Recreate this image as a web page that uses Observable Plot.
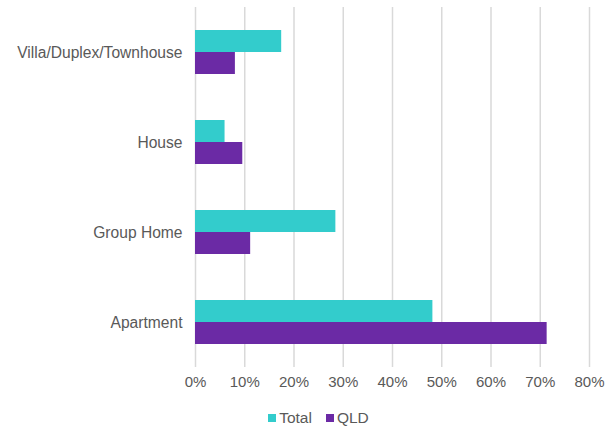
<!DOCTYPE html>
<html>
<head>
<meta charset="utf-8">
<script src="https://cdn.jsdelivr.net/npm/d3@7"></script>
<script src="https://cdn.jsdelivr.net/npm/@observablehq/plot@0.6"></script>
<style>
  body { margin: 0; background: #fff; font-family: "Liberation Sans", Arial, sans-serif; }
  #legend { display: flex; justify-content: center; align-items: center; gap: 14px; padding-left: 30px; padding-top: 7px; height: 22px; font-size: 15.5px; color: #595959; }
  #legend .item { display: flex; align-items: center; gap: 3px; }
  #legend .sw { width: 8px; height: 8px; display: inline-block; }
  #chart svg g[aria-label="fy-axis tick label"] text { font-size: 15.6px; }
</style>
</head>
<body>
<div id="chart"></div>
<div id="legend"></div>
<script>
const categories = ["Villa/Duplex/Townhouse", "House", "Group Home", "Apartment"];
const series = ["Total", "QLD"];
const totalValues = [0.175, 0.060, 0.285, 0.482];
const qldValues = [0.081, 0.096, 0.112, 0.714];
const xTicks = [0, 0.1, 0.2, 0.3, 0.4, 0.5, 0.6, 0.7, 0.8];
const colors = ["#33cccc", "#6b2aa5"];

const data = [];
categories.forEach((c, i) => {
  data.push({category: c, series: "Total", value: totalValues[i]});
  data.push({category: c, series: "QLD", value: qldValues[i]});
});

const chart = Plot.plot({
  width: 607,
  height: 400,
  marginLeft: 195,
  marginRight: 18,
  marginTop: 7,
  marginBottom: 33,
  style: {fontFamily: "'Liberation Sans', Arial, sans-serif", fontSize: "15px", color: "#595959", background: "#fff"},
  x: {domain: [0, 0.8], ticks: xTicks, tickFormat: d3.format(".0%"), tickSize: 0, tickPadding: 9, label: null},
  fy: {domain: categories, padding: 0, label: null, tickSize: 0, tickPadding: 13},
  y: {domain: series, paddingInner: 0, paddingOuter: 0.957, axis: null},
  color: {domain: series, range: colors},
  marks: [
    Plot.gridX(xTicks, {stroke: "#d9d9d9", strokeOpacity: 1, strokeWidth: 1.5}),
    Plot.barX(data, {fy: "category", y: "series", x: "value", fill: "series"})
  ]
});
document.getElementById("chart").appendChild(chart);

const legend = document.getElementById("legend");
series.forEach((s, i) => {
  const item = document.createElement("span");
  item.className = "item";
  const sw = document.createElement("span");
  sw.className = "sw";
  sw.style.background = colors[i];
  item.appendChild(sw);
  item.appendChild(document.createTextNode(s));
  legend.appendChild(item);
});
</script>
</body>
</html>
